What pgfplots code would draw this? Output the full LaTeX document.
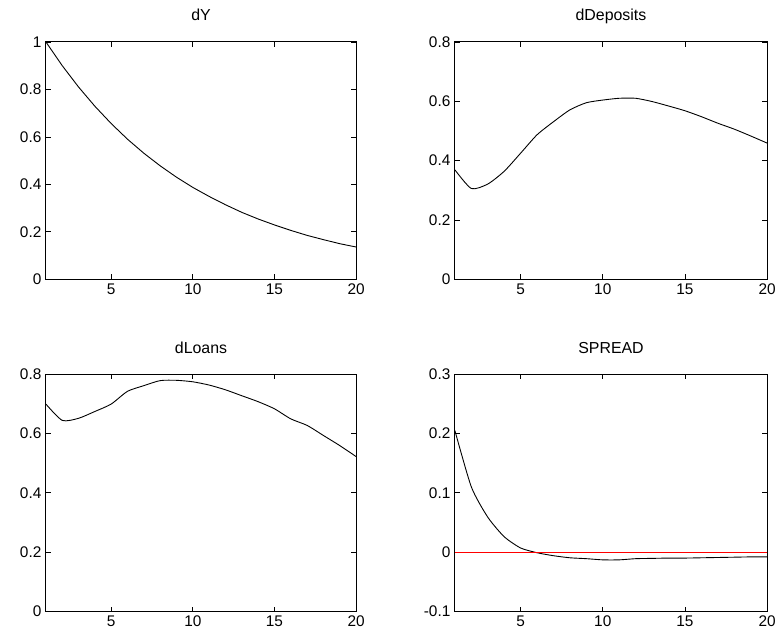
\documentclass[border=0pt]{standalone}
\usepackage{fontspec}
\setmainfont{Liberation Sans}
\usepackage{pgfplots}
\pgfplotsset{compat=1.18}

\pgfplotsset{
  irf/.style={
    scale only axis,
    anchor=south west,
    xmin=1, xmax=20,
    xtick={5,10,15,20},
    tick align=inside,
    major tick length=5bp,
    axis line style={line width=0.9pt},
    every tick/.style={black, line width=0.7pt},
    tick label style={font=\fontsize{15.5}{18}\selectfont},
    /pgf/number format/assume math mode=true,
    xticklabel style={yshift=-1bp},
    yticklabel style={xshift=-1bp},
    title style={at={(0.5,1)}, anchor=base, yshift=15bp, font=\fontsize{16}{18}\selectfont},
    clip=true,
  },
  irfline/.style={black, line width=0.9pt, line join=round},
}

\begin{document}
\begin{tikzpicture}
\path (0,0) rectangle (779bp,635bp);

% dY
\begin{axis}[irf, at={(46bp,355bp)}, width=311bp, height=238bp,
  ymin=0, ymax=1, ytick={0,0.2,0.4,0.6,0.8,1}, title={dY}]
\addplot[irfline] coordinates {
 (1,1.000) (2,0.900) (3,0.810) (4,0.729) (5,0.656) (6,0.590) (7,0.531)
 (8,0.478) (9,0.430) (10,0.387) (11,0.349) (12,0.314) (13,0.282)
 (14,0.254) (15,0.229) (16,0.206) (17,0.185) (18,0.167) (19,0.150) (20,0.136)
};
\end{axis}

% dDeposits
\begin{axis}[irf, at={(456bp,355bp)}, width=313bp, height=238bp,
  ymin=0, ymax=0.8, ytick={0,0.2,0.4,0.6,0.8}, title={dDeposits}]
\addplot[irfline, smooth, tension=0.4] coordinates {
 (1,0.369) (2,0.306) (3,0.321) (4,0.364) (5,0.425) (6,0.487) (7,0.531)
 (8,0.571) (9,0.595) (10,0.604) (11,0.610) (12,0.610) (13,0.599)
 (14,0.584) (15,0.568) (16,0.548) (17,0.526) (18,0.506) (19,0.483) (20,0.459)
};
\end{axis}

% dLoans
\begin{axis}[irf, at={(46bp,22bp)}, width=311bp, height=238bp,
  ymin=0, ymax=0.8, ytick={0,0.2,0.4,0.6,0.8}, title={dLoans}]
\addplot[irfline, smooth, tension=0.4] coordinates {
 (1,0.699) (2,0.644) (3,0.651) (4,0.674) (5,0.699) (6,0.742) (7,0.761)
 (8,0.778) (9,0.779) (10,0.774) (11,0.763) (12,0.747) (13,0.727)
 (14,0.707) (15,0.683) (16,0.649) (17,0.627) (18,0.593) (19,0.559) (20,0.522)
};
\end{axis}

% SPREAD
\begin{axis}[irf, at={(456bp,22bp)}, width=313bp, height=238bp,
  ymin=-0.1, ymax=0.3, ytick={-0.1,0,0.1,0.2,0.3}, title={SPREAD}]
\addplot[irfline, smooth, tension=0.4] coordinates {
 (1,0.205) (2,0.110) (3,0.059) (4,0.026) (5,0.007) (6,-0.001) (7,-0.006)
 (8,-0.0095) (9,-0.011) (10,-0.013) (11,-0.013) (12,-0.011) (13,-0.0105)
 (14,-0.010) (15,-0.010) (16,-0.0095) (17,-0.009) (18,-0.0085) (19,-0.008) (20,-0.008)
};
\addplot[draw=red, line width=1pt] coordinates {(1,0) (20,0)};
\end{axis}
\end{tikzpicture}
\end{document}
